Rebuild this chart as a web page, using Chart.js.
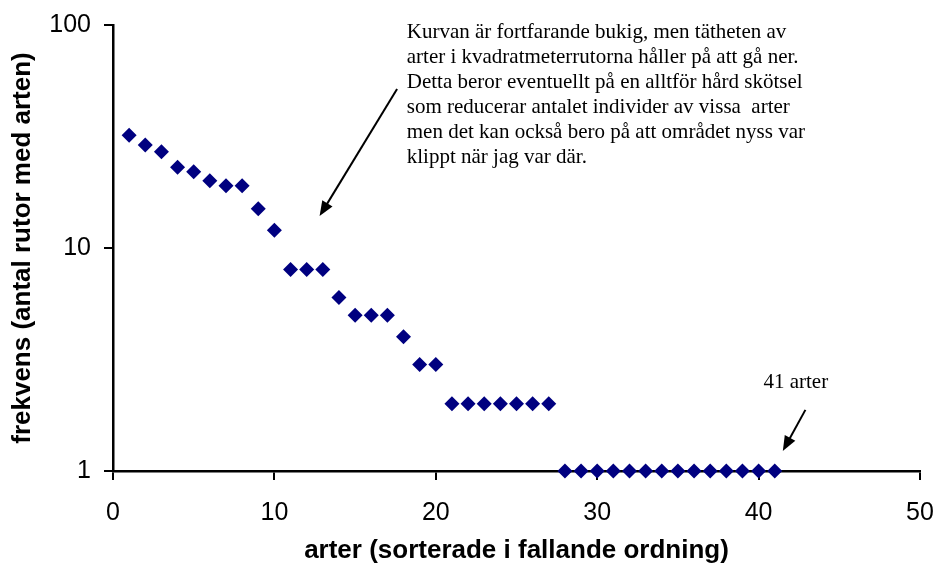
<!DOCTYPE html>
<html>
<head>
<meta charset="utf-8">
<script src="https://cdn.jsdelivr.net/npm/chart.js@4/dist/chart.umd.min.js"></script>
<style>
html,body{margin:0;padding:0;background:#fff;}
#wrap{width:936px;height:566px;position:relative;}
</style>
</head>
<body>
<div id="wrap"><canvas id="c"></canvas></div>
<script>
// species rank (x) and number of squares where the species was found (y)
const arter = [1,2,3,4,5,6,7,8,9,10,11,12,13,14,15,16,17,18,19,20,21,22,23,24,25,26,27,28,29,30,31,32,33,34,35,36,37,38,39,40,41];
const frekvens = [32,29,27,23,22,20,19,19,15,12,8,8,8,6,5,5,5,4,3,3,2,2,2,2,2,2,2,1,1,1,1,1,1,1,1,1,1,1,1,1,1];
const yTicks = [1,10,100];

const noteLines = [
  'Kurvan är fortfarande bukig, men tätheten av',
  'arter i kvadratmeterrutorna håller på att gå ner.',
  'Detta beror eventuellt på en alltför hård skötsel',
  'som reducerar antalet individer av vissa  arter',
  'men det kan också bero på att området nyss var',
  'klippt när jag var där.'
];
const noteAt = {x:18.2, y:87.4};
const arrow1 = {from:{x:17.6,y:51.6}, to:{x:12.8,y:13.9}};
const label2 = {text:'41 arter', x:40.3, y:2.36};
const arrow2 = {from:{x:42.9,y:1.88}, to:{x:41.5,y:1.23}};

const SANS = "'Liberation Sans', Arial, sans-serif";
const SERIF = "'Liberation Serif', 'Times New Roman', serif";

function drawArrow(ctx,x1,y1,x2,y2){
  const a=Math.atan2(y2-y1,x2-x1), len=15, w=6;
  ctx.beginPath();
  ctx.moveTo(x1,y1);
  ctx.lineTo(x2-Math.cos(a)*len*0.8,y2-Math.sin(a)*len*0.8);
  ctx.stroke();
  ctx.beginPath();
  ctx.moveTo(x2,y2);
  ctx.lineTo(x2-Math.cos(a)*len+Math.sin(a)*w,y2-Math.sin(a)*len-Math.cos(a)*w);
  ctx.lineTo(x2-Math.cos(a)*len-Math.sin(a)*w,y2-Math.sin(a)*len+Math.cos(a)*w);
  ctx.closePath();
  ctx.fill();
}

// no extra room for overflowing tick labels, the layout padding handles it
function noPad(s){s.paddingLeft=0;s.paddingRight=0;s.paddingTop=0;s.paddingBottom=0;}

const notes = {
  id:'notes',
  afterDraw(chart){
    const {ctx,scales:{x,y}} = chart;
    ctx.save();
    ctx.fillStyle='#000';ctx.strokeStyle='#000';ctx.lineWidth=2;
    ctx.font='21px '+SERIF;
    ctx.textBaseline='alphabetic';ctx.textAlign='left';
    const tx=x.getPixelForValue(noteAt.x), ty=y.getPixelForValue(noteAt.y);
    noteLines.forEach((l,i)=>ctx.fillText(l,tx,ty+i*25));
    ctx.fillText(label2.text,x.getPixelForValue(label2.x),y.getPixelForValue(label2.y));
    [arrow1,arrow2].forEach(a=>drawArrow(ctx,
      x.getPixelForValue(a.from.x),y.getPixelForValue(a.from.y),
      x.getPixelForValue(a.to.x),y.getPixelForValue(a.to.y)));
    ctx.restore();
  }
};

new Chart(document.getElementById('c'),{
  type:'scatter',
  data:{datasets:[{
    data:arter.map((a,i)=>({x:a,y:frekvens[i]})),
    pointStyle:'rectRot',pointRadius:7.5,pointHoverRadius:7.5,
    backgroundColor:'#000080',borderColor:'#000080',borderWidth:0,
    clip:false
  }]},
  options:{
    responsive:true,maintainAspectRatio:false,animation:false,
    layout:{padding:{top:25,right:16,left:0,bottom:0}},
    plugins:{legend:{display:false},tooltip:{enabled:false}},
    scales:{
      x:{
        type:'linear',min:0,max:50,
        afterFit:s=>{s.height=95;noPad(s);},
        ticks:{stepSize:10,color:'#000',font:{family:SANS,size:25},padding:18,maxRotation:0},
        grid:{drawOnChartArea:false,color:'#000',lineWidth:2,tickLength:9},
        border:{color:'#000',width:2.5},
        title:{display:true,text:'arter (sorterade i fallande ordning)',color:'#000',
          font:{family:SANS,size:26,weight:'bold'},padding:{top:0,bottom:0}}
      },
      y:{
        type:'logarithmic',min:1,max:100,
        afterFit:s=>{s.width=113;noPad(s);},
        afterBuildTicks:s=>{s.ticks=yTicks.map(v=>({value:v}));},
        ticks:{color:'#000',font:{family:SANS,size:25},padding:13,callback:v=>String(v)},
        grid:{drawOnChartArea:false,color:'#000',lineWidth:2,tickLength:9},
        border:{color:'#000',width:2.5},
        title:{display:true,text:'frekvens (antal rutor med arten)',color:'#000',
          font:{family:SANS,size:26,weight:'bold'},padding:{top:7,bottom:0}}
      }
    }
  },
  plugins:[notes]
});
</script>
</body>
</html>
